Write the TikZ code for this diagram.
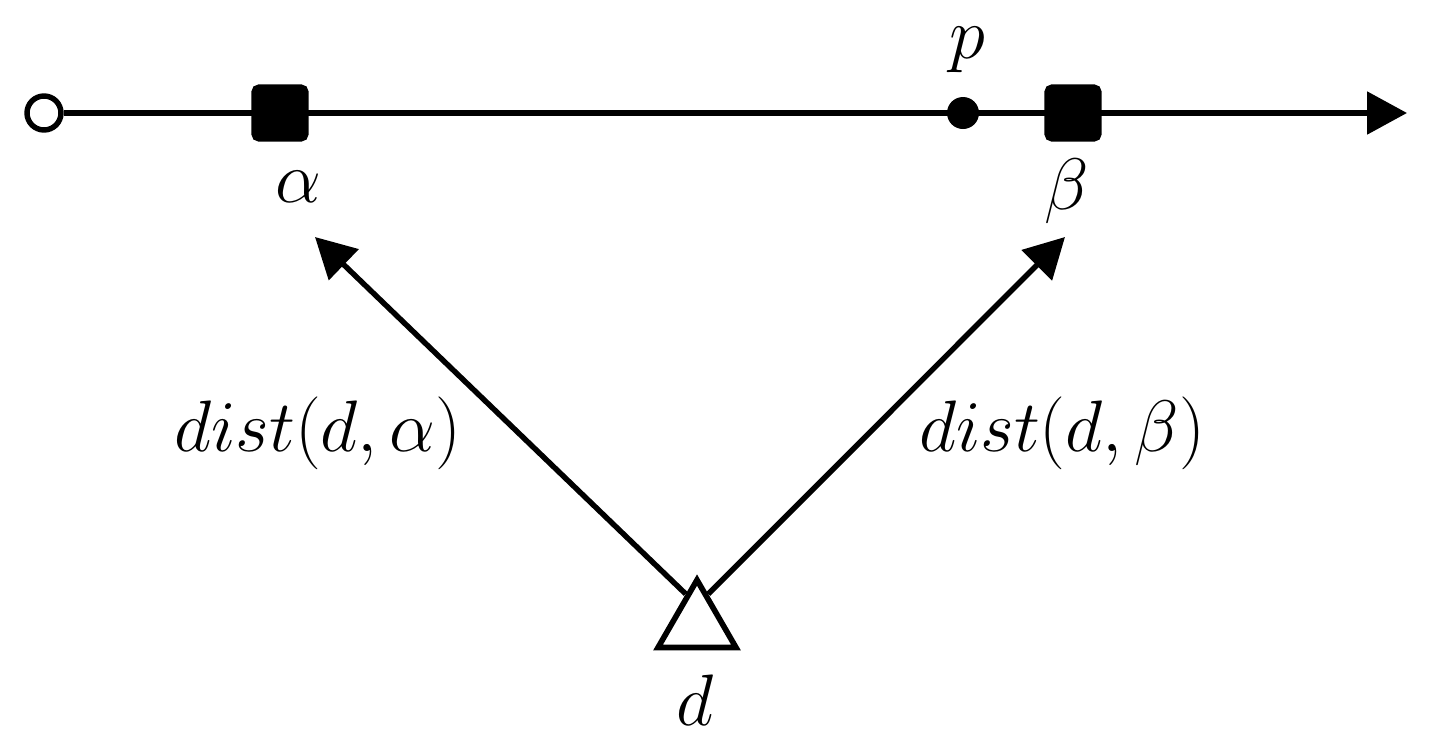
\documentclass[tikz,border=0pt]{standalone}
\usetikzlibrary{arrows.meta,shapes.geometric}

\tikzset{
  mark box/.style={fill=black, draw=black, rounded corners=1.5pt, minimum size=0.52cm, inner sep=0pt},
  lbl/.style={font=\fontsize{21}{25}\selectfont, inner sep=0pt},
  tip/.style={-{Triangle[length=0.4cm,width=0.42cm]}}
}

\begin{document}
\begin{tikzpicture}[line width=1.55pt]
\useasboundingbox (0,0) rectangle (14.35,7.55);
% the axis
\node[draw, circle, fill=white, minimum size=0.34cm, inner sep=0pt] (start) at (0.44,6.42) {};
\coordinate (end) at (14.07,6.42);
\draw[tip] (start) -- (end);
\node[mark box] (alpha) at (2.80,6.42) {};
\node[mark box] (beta) at (10.73,6.42) {};
\node[circle, fill=black, minimum size=0.32cm, inner sep=0pt] (p) at (9.63,6.42) {};
\node[lbl] (plabel) at (9.67,7.05) {$p$};
\node[lbl] (alabel) at (2.98,5.68) {$\alpha$};
\node[lbl] (blabel) at (10.67,5.64) {$\beta$};
% the point d
\node[draw, regular polygon, regular polygon sides=3, minimum size=0.9cm, inner sep=0pt, line width=1.6pt] (d) at (6.97,1.30) {};
\node[lbl] (dlabel) at (6.95,0.55) {$d$};
\coordinate (ahead) at (3.15,5.18);
\coordinate (bhead) at (10.65,5.18);
\draw[tip] (d.110) -- (ahead);
\draw[tip] (d.70) -- (bhead);
\node[lbl] (dista) at (3.18,3.22) {$dist(d,\alpha)$};
\node[lbl] (distb) at (10.62,3.22) {$dist(d,\beta)$};
\end{tikzpicture}
\end{document}
